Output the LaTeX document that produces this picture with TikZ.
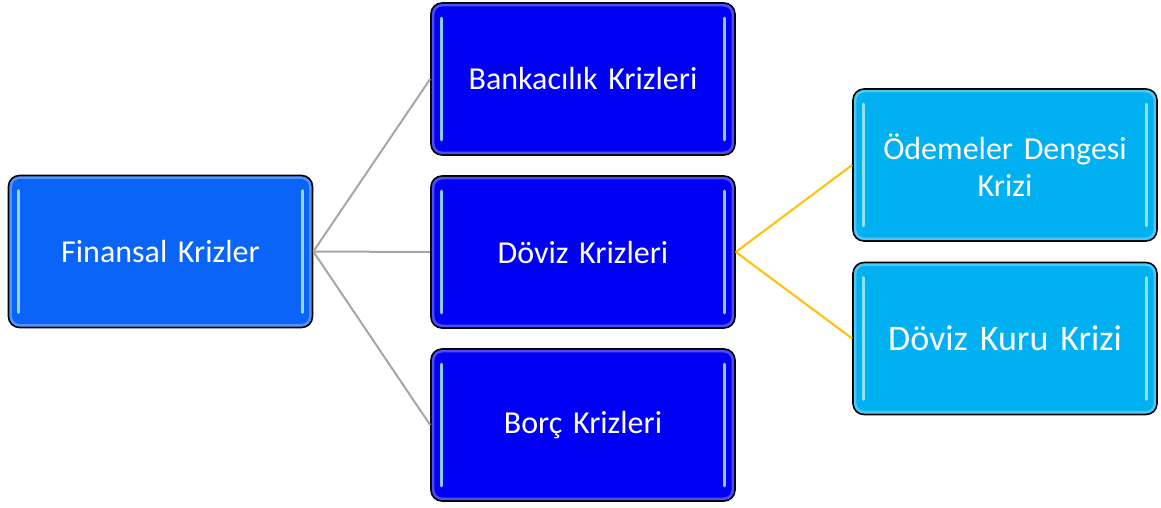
\documentclass[tikz,border=0pt]{standalone}
\usepackage{fontspec}
\setmainfont[WordSpace=0.7]{Carlito}
\usetikzlibrary{positioning}

\definecolor{finblue}{HTML}{0A64F8}
\definecolor{typeblue}{HTML}{0000F5}
\definecolor{subcyan}{HTML}{00B0F0}
\definecolor{linkgrey}{HTML}{A6A6A6}
\definecolor{linkgold}{HTML}{FFC000}
\definecolor{glint}{HTML}{A8EEFF}

\tikzset{
  crisis/.style={rectangle, rounded corners=11pt, draw=black, line width=1.6pt,
    minimum width=304pt, minimum height=152pt, inner sep=0pt, text=white,
    align=center, text width=290pt, font=\fontsize{32}{37}\selectfont},
  shine/.style={line width=3pt, line cap=round, glint, opacity=0.85},
  rim/.style={line width=2.5pt, white, opacity=0.3, rounded corners=9pt},
  greylink/.style={linkgrey, line width=2pt},
  goldlink/.style={linkgold, line width=2pt}
}

\begin{document}
\begin{tikzpicture}[x=1pt,y=-1pt]
\useasboundingbox (0,0) rectangle (1161,507);

\node[crisis, fill=finblue](fin) at (160.5,251.5) {Finansal Krizler};
\node[crisis, fill=typeblue](bank) at (583,79) {Bankacılık Krizleri};
\node[crisis, fill=typeblue](doviz) at (583,252) {Döviz Krizleri};
\node[crisis, fill=typeblue](borc) at (583,425) {Borç Krizleri};
\node[crisis, fill=subcyan](odeme) at (1005,165) {Ödemeler Dengesi\\Krizi};
\node[crisis, fill=subcyan, font=\fontsize{36}{43}\selectfont](kur) at (1005,338.5) {Döviz Kuru Krizi};

% glossy rims and side highlights
\foreach \n in {fin,bank,doviz,borc,odeme,kur}{
  \draw[rim] ([xshift=3pt,yshift=-3pt]\n.north west) rectangle ([xshift=-3pt,yshift=3pt]\n.south east);
  \draw[shine] ([xshift=11pt,yshift=-16pt]\n.north west) -- ([xshift=11pt,yshift=16pt]\n.south west);
  \draw[shine] ([xshift=-11pt,yshift=-16pt]\n.north east) -- ([xshift=-11pt,yshift=16pt]\n.south east);
}

\draw[greylink] (fin.east) -- (bank.west);
\draw[greylink] (fin.east) -- (doviz.west);
\draw[greylink] (fin.east) -- (borc.west);
\draw[goldlink] (doviz.east) -- (odeme.west);
\draw[goldlink] (doviz.east) -- (kur.west);
\end{tikzpicture}
\end{document}
